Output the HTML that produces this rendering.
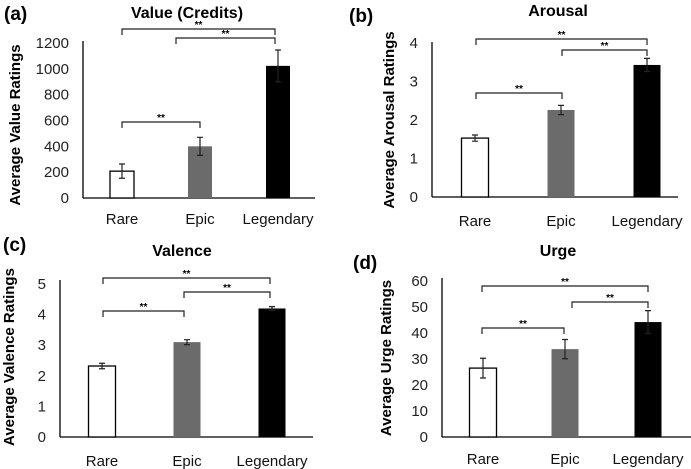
<!DOCTYPE html>
<html><head><meta charset="utf-8"><style>
body{margin:0;background:#fff}
svg{display:block}
text{font-family:"Liberation Sans",Arial,sans-serif}
</style></head><body>
<svg id="fig" width="691" height="469" viewBox="0 0 691 469" xmlns="http://www.w3.org/2000/svg"></svg>
<script>
const categories = ["Rare", "Epic", "Legendary"];
const valueMeans = [208, 400, 1023];
const valueErrs = [55, 70, 123];
const valueTicks = [0, 200, 400, 600, 800, 1000, 1200];
const arousalMeans = [1.53, 2.26, 3.43];
const arousalErrs = [0.08, 0.12, 0.17];
const arousalTicks = [0, 1, 2, 3, 4];
const valenceMeans = [2.32, 3.1, 4.2];
const valenceErrs = [0.09, 0.08, 0.06];
const valenceTicks = [0, 1, 2, 3, 4, 5];
const urgeMeans = [26.5, 33.8, 44.2];
const urgeErrs = [3.8, 3.7, 4.4];
const urgeTicks = [0, 10, 20, 30, 40, 50, 60];
const sigPairs = [[0, 2], [1, 2], [0, 1]];

const NS = "http://www.w3.org/2000/svg";
const fig = document.getElementById("fig");
function mk(tag, attrs, parent, txt) {
  const e = document.createElementNS(NS, tag);
  for (const k in attrs) e.setAttribute(k, attrs[k]);
  if (txt !== undefined) e.textContent = txt;
  (parent || fig).appendChild(e);
  return e;
}
const fills = ["#ffffff", "#6b6b6b", "#000000"];

const panels = [
  {id: "value", letter: "(a)", lx: 4, ly: 20, title: "Value (Credits)", tx: 187, ty: 18, ylab: "Average Value Ratings", ylx: 20, yly: 125,
   ax: 83, x1: 315, y0: 198, yTop: 43, max: 1200, top: 41, centers: [122, 200, 278], bw: 24, catY: 224,
   means: valueMeans, errs: valueErrs, ticks: valueTicks, br: [[122, 275, 29], [176, 275, 38], [122, 200, 122]]},
  {id: "arousal", letter: "(b)", lx: 349, ly: 22, title: "Arousal", tx: 558, ty: 16, ylab: "Average Arousal Ratings", ylx: 394, yly: 120,
   ax: 432, x1: 678, y0: 197, yTop: 43, max: 4, top: 42, centers: [475, 561, 647], bw: 27, catY: 226,
   means: arousalMeans, errs: arousalErrs, ticks: arousalTicks, br: [[476, 647, 39], [562, 647, 50], [476, 562, 93]]},
  {id: "valence", letter: "(c)", lx: 3, ly: 251, title: "Valence", tx: 182, ty: 256, ylab: "Average Valence Ratings", ylx: 14, yly: 357,
   ax: 60, x1: 313, y0: 437, yTop: 284, max: 5, top: 280, centers: [102, 187, 272], bw: 27, catY: 466,
   means: valenceMeans, errs: valenceErrs, ticks: valenceTicks, br: [[103, 270, 278], [184, 270, 292], [103, 184, 311]]},
  {id: "urge", letter: "(d)", lx: 353, ly: 269, title: "Urge", tx: 558, ty: 256, ylab: "Average Urge Ratings", ylx: 391, yly: 358,
   ax: 442, x1: 691, y0: 437, yTop: 281, max: 60, top: 278, centers: [483, 565, 648], bw: 27, catY: 464,
   means: urgeMeans, errs: urgeErrs, ticks: urgeTicks, br: [[482, 648, 286], [572, 648, 302], [482, 564, 328]]}
];

panels.forEach(p => {
  const g = mk("g", {});
  
  
  const yS = v => p.y0 - (v / p.max) * (p.y0 - p.yTop);
  const lt = mk("text", {x: p.lx, y: p.ly, "font-family": "Liberation Serif", "font-weight": "bold", "font-size": 19}, g, p.letter);
  
  
  const tt = mk("text", {x: p.tx, y: p.ty, "text-anchor": "middle", "font-weight": "bold", "font-size": 16}, g, p.title);
  
  
  const yl = mk("text", {x: 0, y: 0, transform: `translate(${p.ylx},${p.yly}) rotate(-90)`, "text-anchor": "middle", "font-weight": "bold", "font-size": 15}, g, p.ylab);
  
  
  const ya = mk("line", {x1: p.ax, x2: p.ax, y1: p.top, y2: p.y0, stroke: "#000", "stroke-width": 1.3}, g);
  
  
  const xa = mk("line", {x1: p.ax, x2: p.x1, y1: p.y0, y2: p.y0, stroke: "#000", "stroke-width": 1.3}, g);
  
  
  p.ticks.forEach(t => {
    const e = mk("text", {x: p.ax - 14, y: yS(t) + 5, "text-anchor": "end", "font-size": 15, fill: "#222"}, g, String(t));
    
    
  });
  categories.forEach((c, i) => {
    const cx = p.centers[i], top = yS(p.means[i]);
    const b = mk("rect", {x: cx - p.bw / 2, y: top, width: p.bw, height: p.y0 - top, fill: fills[i], stroke: i === 0 ? "#000" : "none", "stroke-width": 1.3}, g);
    
    
    const eh = yS(p.means[i] + p.errs[i]), el = yS(p.means[i] - p.errs[i]);
    const eb = mk("path", {d: `M${cx},${eh}V${el}M${cx - 3},${eh}H${cx + 3}M${cx - 3},${el}H${cx + 3}`, stroke: "#222", "stroke-width": 1.2, fill: "none"}, g);
    
    
    const cl = mk("text", {x: cx, y: p.catY, "text-anchor": "middle", "font-size": 15, fill: "#111"}, g, c);
    
    
  });
  sigPairs.forEach((pr, k) => {
    const [xa1, xb1, yb] = p.br[k];
    const s = mk("path", {d: `M${xa1},${yb + 6}V${yb}H${xb1}V${yb + 6}`, stroke: "#222", "stroke-width": 1.2, fill: "none"}, g);
    
    
    const st = mk("text", {x: (xa1 + xb1) / 2, y: yb - 1, "text-anchor": "middle", "font-size": 10, "font-weight": "bold"}, g, "**");
    
    
  });
});
</script>
</body></html>
